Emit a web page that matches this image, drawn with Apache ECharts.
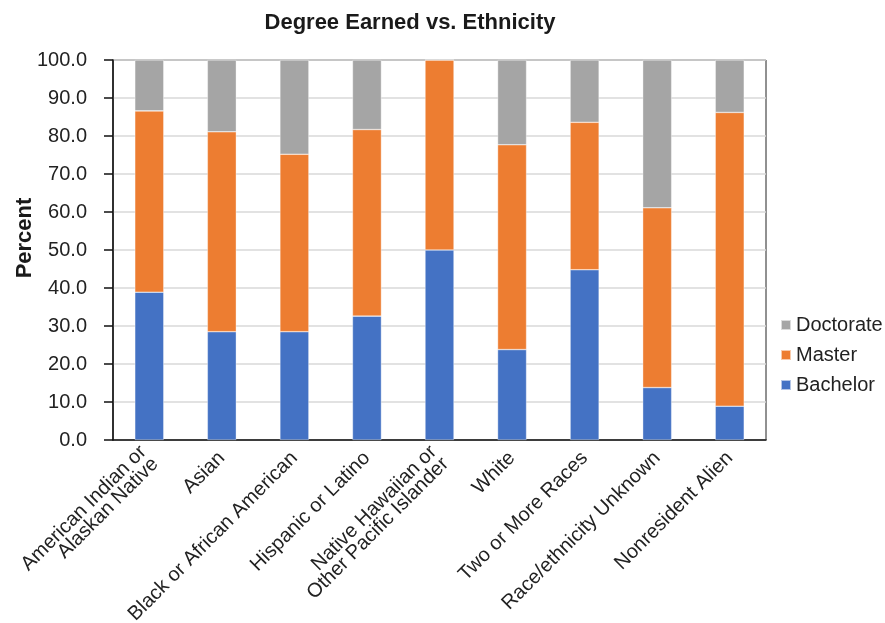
<!DOCTYPE html>
<html>
<head>
<meta charset="utf-8">
<script src="https://cdn.jsdelivr.net/npm/echarts@6/dist/echarts.min.js"></script>
<style>
html,body{margin:0;padding:0;background:#fff;}
#chart{width:885px;height:623px;}
</style>
</head>
<body>
<div id="chart"></div>
<script>
const categories = [
  'American Indian or\nAlaskan Native',
  'Asian',
  'Black or African American',
  'Hispanic or Latino',
  'Native Hawaiian or\nOther Pacific Islander',
  'White',
  'Two or More Races',
  'Race/ethnicity Unknown',
  'Nonresident Alien'
];
const bachelor  = [38.9, 28.5, 28.5, 32.6, 50.0, 23.8, 44.8, 13.8, 8.9];
const master    = [47.7, 52.6, 46.7, 49.1, 50.0, 53.9, 38.8, 47.3, 77.3];
const doctorate = [13.4, 18.9, 24.8, 18.3, 0.0, 22.3, 16.4, 38.9, 13.8];

const FONT = '"Liberation Sans", Arial, sans-serif';
const chart = echarts.init(document.getElementById('chart'), null, {renderer: 'canvas'});
const seg = (name, data, color) => ({
  name, type: 'bar', stack: 'total', data, barWidth: '40%',
  itemStyle: {color, borderColor: 'rgba(255,255,255,0.6)', borderWidth: 0.6},
  emphasis: {disabled: true}
});
chart.setOption({
  animation: false,
  textStyle: {fontFamily: FONT},
  title: {
    text: 'Degree Earned vs. Ethnicity',
    left: 405, top: 7, textAlign: 'center',
    textStyle: {fontFamily: FONT, fontWeight: 'bold', fontSize: 22, color: '#1a1a1a'}
  },
  legend: {
    orient: 'vertical', left: 775, top: 310,
    itemWidth: 10, itemHeight: 10, itemGap: 10,
    icon: 'rect',
    data: ['Doctorate', 'Master', 'Bachelor'],
    textStyle: {fontFamily: FONT, fontSize: 20, color: '#222'}
  },
  grid: {
    left: 113, right: 119, top: 60, bottom: 183,
    show: true, borderColor: '#222', borderWidth: 1,
    containLabel: false, outerBoundsMode: 'none'
  },
  xAxis: {
    type: 'category', data: categories,
    axisLine: {lineStyle: {color: '#111', width: 1.5}},
    axisTick: {show: false},
    axisLabel: {
      rotate: 45, interval: 0, margin: 15,
      fontFamily: FONT, fontSize: 20, color: '#222', lineHeight: 17
    }
  },
  yAxis: {
    type: 'value', min: 0, max: 100, interval: 10,
    name: 'Percent', nameLocation: 'middle', nameGap: 77, nameMoveOverlap: false,
    nameTextStyle: {fontFamily: FONT, fontWeight: 'bold', fontSize: 22, color: '#1a1a1a', padding: [0, 0, 0, 24]},
    axisLine: {show: true, lineStyle: {color: '#111', width: 1.5}},
    axisTick: {show: true, inside: false, length: 9, lineStyle: {color: '#111', width: 1.5}},
    splitLine: {lineStyle: {color: '#d9d9d9', width: 1.5}},
    axisLabel: {
      margin: 26, fontFamily: FONT, fontSize: 20, color: '#222',
      formatter: v => v.toFixed(1)
    }
  },
  series: [
    seg('Bachelor', bachelor, '#4472C4'),
    seg('Master', master, '#ED7D31'),
    seg('Doctorate', doctorate, '#A5A5A5')
  ]
});
</script>
</body>
</html>
